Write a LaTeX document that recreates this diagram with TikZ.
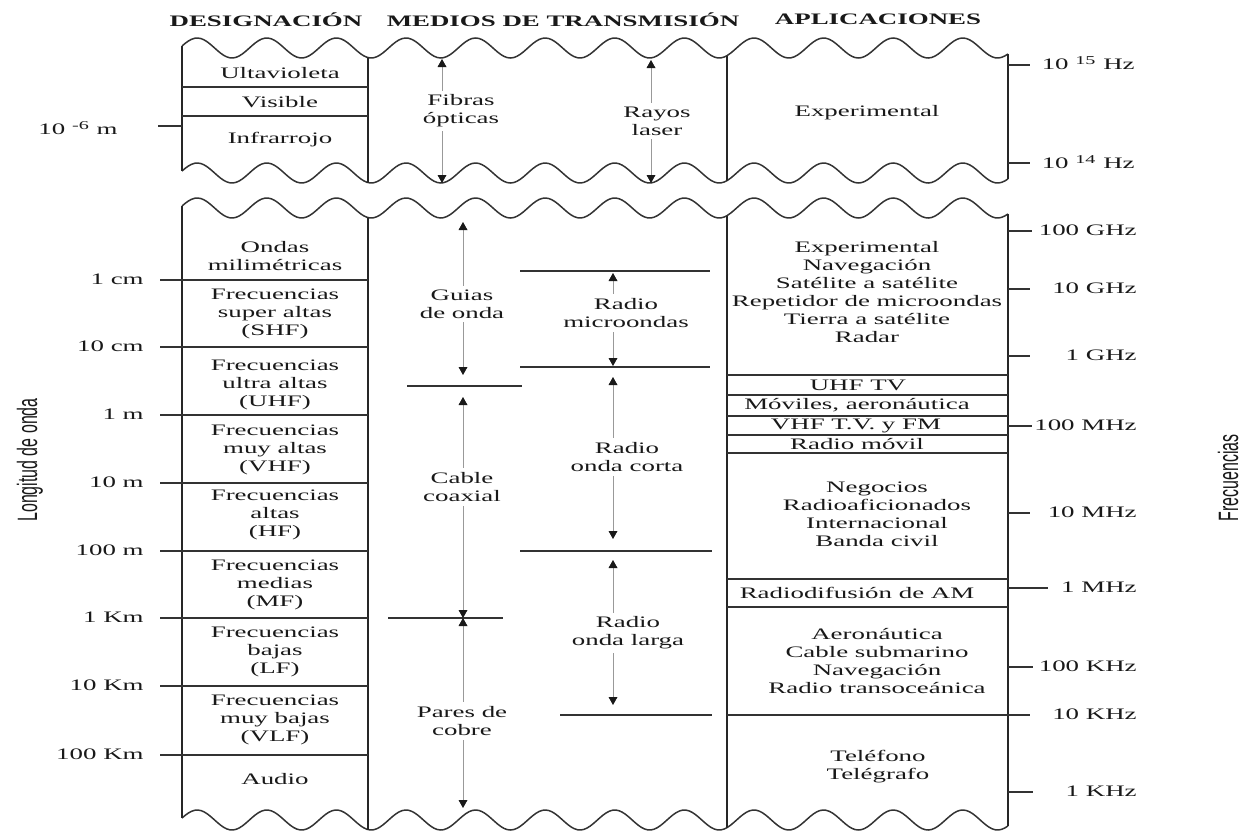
\documentclass[tikz,border=0pt]{standalone}
\usepackage{fontspec}
\setmainfont{Liberation Serif}[FakeStretch=1.68]
\newfontfamily\sidefont{Liberation Sans}[FakeStretch=0.57]
\usetikzlibrary{arrows.meta}

\begin{document}
\begin{tikzpicture}[x=0.5pt,y=-0.5pt,
  declare function={wv(\t)=10*cos(((\t-232)/69.6)*360);},
  frame/.style={line width=1.1pt, black!85},
  wave/.style={line width=0.75pt, black!80},
  sep/.style={line width=0.75pt, black!80},
  span/.style={draw=black!40, line width=0.4pt,
    {Triangle[length=4pt,width=4.4pt,color=black!90]}-{Triangle[length=4pt,width=4.4pt,color=black!90]}},
  txt/.style={font=\fontsize{8}{9}\selectfont, text=black!90, align=center, inner sep=1pt},
  medio/.style={txt, fill=white, inner sep=2pt},
  head/.style={font=\fontsize{8}{9}\selectfont\bfseries, text=black!90},
  lbl/.style={txt, anchor=east},
  side/.style={font=\sidefont\fontsize{14}{16}\selectfont, text=black!90, rotate=90}
]
\useasboundingbox (0,0) rectangle (1255,831);

% ---------- column headings
\node[head] (hdes) at (266,20) {DESIGNACIÓN};
\node[head] (hmed) at (563,20) {MEDIOS DE TRANSMISIÓN};
\node[head] (hapl) at (878,19) {APLICACIONES};

% ---------- wavy break lines
\draw[wave] plot[domain=182:1008, samples=260, smooth] (\x,{48+wv(\x)});
\draw[wave] plot[domain=182:1008, samples=260, smooth] (\x,{173+wv(\x)});
\draw[wave] plot[domain=182:1008, samples=260, smooth] (\x,{208+wv(\x)});
\draw[wave] plot[domain=182:1008, samples=260, smooth] (\x,{820+wv(\x)});

% ---------- column borders
\foreach \c in {182,368,727,1008}{
  \draw[frame] (\c,{48+wv(\c)}) -- (\c,{173+wv(\c)});
  \draw[frame] (\c,{208+wv(\c)}) -- (\c,{820+wv(\c)});
}

% ---------- upper band: optical region
\draw[sep] (182,87) -- (368,87);
\draw[sep] (182,116) -- (368,116);
\node[txt] (uv)  at (280,73)  {Ultavioleta};
\node[txt] (vis) at (280,102) {Visible};
\node[txt] (ir)  at (280,140) {Infrarrojo};
\draw[sep] (158,126) -- (182,126);
\node[txt] (lm6) at (78,128) {10 \textsuperscript{-6} m};

\coordinate (fo1) at (442,59);  \coordinate (fo2) at (442,183);
\coordinate (rl1) at (651,60);  \coordinate (rl2) at (651,183);
\draw[span] (fo1) -- (fo2);
\draw[span] (rl1) -- (rl2);
\node[medio] (fo) at (461,111) {Fibras\\ópticas};
\node[medio] (rl) at (657,121) {Rayos\\laser};

\node[txt] (exp1) at (867,113) {Experimental};
\draw[sep] (1008,65) -- (1030,65);
\draw[sep] (1008,163) -- (1030,163);
\node[lbl] (f15) at (1137,63) {10 \textsuperscript{15} Hz};
\node[lbl] (f14) at (1137,162) {10 \textsuperscript{14} Hz};

% ---------- lower band: designations and wavelengths
\foreach \y/\w in {280/1 cm,347/10 cm,415/1 m,483/10 m,551/100 m,618/1 Km,686/10 Km,755/100 Km}{
  \draw[sep] (160,\y) -- (368,\y);
  \node[lbl] (w\y) at (146,\y-1) {\w};
}
\node[txt] (mm)  at (275,256) {Ondas\\milimétricas};
\node[txt] (shf) at (275,314) {Frecuencias\\super altas\\(SHF)};
\node[txt] (uhf) at (275,385) {Frecuencias\\ultra altas\\(UHF)};
\node[txt] (vhf) at (275,450) {Frecuencias\\muy altas\\(VHF)};
\node[txt] (hf)  at (275,515) {Frecuencias\\altas\\(HF)};
\node[txt] (mf)  at (275,585) {Frecuencias\\medias\\(MF)};
\node[txt] (lf)  at (275,652) {Frecuencias\\bajas\\(LF)};
\node[txt] (vlf) at (275,720) {Frecuencias\\muy bajas\\(VLF)};
\node[txt] (aud) at (275,779) {Audio};

% ---------- lower band: guided media
\draw[sep] (407,386) -- (522,386);
\draw[sep] (388,618) -- (503,618);
\coordinate (go1) at (463,222); \coordinate (go2) at (463,375);
\coordinate (cc1) at (463,397); \coordinate (cc2) at (463,618);
\coordinate (pc1) at (463,618); \coordinate (pc2) at (463,808);
\draw[span] (go1) -- (go2);
\draw[span] (cc1) -- (cc2);
\draw[span] (pc1) -- (pc2);
\node[medio] (go) at (462,304) {Guias\\de onda};
\node[medio] (cc) at (462,487) {Cable\\coaxial};
\node[medio] (pc) at (462,721) {Pares de\\cobre};

% ---------- lower band: radio media
\draw[sep] (520,271) -- (710,271);
\draw[sep] (520,367) -- (710,367);
\draw[sep] (520,551) -- (712,551);
\draw[sep] (560,715) -- (712,715);
\coordinate (mw1) at (613,273); \coordinate (mw2) at (613,366);
\coordinate (sw1) at (613,377); \coordinate (sw2) at (613,539);
\coordinate (lw1) at (613,560); \coordinate (lw2) at (613,705);
\draw[span] (mw1) -- (mw2);
\draw[span] (sw1) -- (sw2);
\draw[span] (lw1) -- (lw2);
\node[medio] (mw) at (626,313) {Radio\\microondas};
\node[medio] (sw) at (627,457) {Radio\\onda corta};
\node[medio] (lw) at (628,633) {Radio\\onda larga};

% ---------- lower band: applications
\foreach \y in {375,395,416,435,453,579,607}{
  \draw[sep] (727,\y) -- (1008,\y);
}
\draw[sep] (727,715) -- (1030,715);
\node[txt] (ap1) at (867,292) {Experimental\\Navegación\\Satélite a satélite\\Repetidor de microondas\\Tierra a satélite\\Radar};
\node[txt] (ap2) at (858,385) {UHF TV};
\node[txt] (ap3) at (857,405) {Móviles, aeronáutica};
\node[txt] (ap4) at (856,426) {VHF T.V. y FM};
\node[txt] (ap5) at (857,444) {Radio móvil};
\node[txt] (ap6) at (877,514) {Negocios\\Radioaficionados\\Internacional\\Banda civil};
\node[txt] (ap7) at (857,593) {Radiodifusión de AM};
\node[txt] (ap8) at (877,661) {Aeronáutica\\Cable submarino\\Navegación\\Radio transoceánica};
\node[txt] (ap9) at (878,767) {Teléfono\\Telégrafo};

% ---------- frequency scale
\foreach \y/\f/\e in {231/100 GHz/1032,289/10 GHz/1030,356/1 GHz/1030,426/100 MHz/1032,513/10 MHz/1030,588/1 MHz/1048,667/100 KHz/1033,792/1 KHz/1033}{
  \draw[sep] (1008,\y) -- (\e,\y);
  \node[lbl] (f\y) at (1139,\y-1) {\f};
}
\node[lbl] (f715) at (1139,714) {10 KHz};

% ---------- axis titles
\node[side] (lon) at (30,460) {Longitud de onda};
\node[side] (fre) at (1228,478) {Frecuencias};
\end{tikzpicture}
\end{document}
